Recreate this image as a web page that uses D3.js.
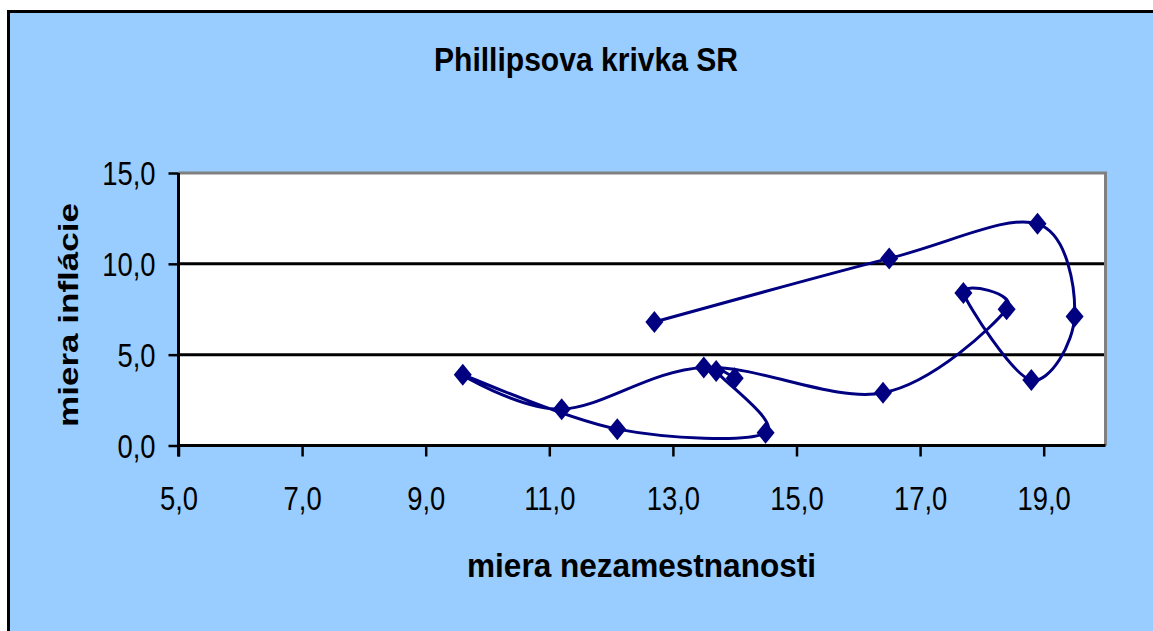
<!DOCTYPE html>
<html>
<head>
<meta charset="utf-8">
<script src="https://cdn.jsdelivr.net/npm/d3@7"></script>
<style>
  html, body { margin: 0; padding: 0; background: #ffffff; }
  svg { display: block; }
  text { font-family: "Liberation Sans", Arial, sans-serif; fill: #000; }
</style>
</head>
<body>
<script>
// Phillips curve for Slovakia: unemployment rate vs. inflation rate, yearly path
const years        = [1998, 1999, 2000, 2001, 2002, 2003, 2004, 2005, 2006, 2007, 2008, 2009, 2010, 2011, 2012];
const unemployment = [12.7, 16.5, 18.9, 19.5, 18.8, 17.7, 18.4, 16.4, 13.5, 11.2, 9.6, 12.1, 14.5, 13.7, 14.0];
const inflation    = [6.8, 10.3, 12.2, 7.1, 3.6, 8.4, 7.5, 2.9, 4.3, 2.0, 3.9, 0.9, 0.7, 4.1, 3.7];
const xTicks = [5, 7, 9, 11, 13, 15, 17, 19];
const yTicks = [0, 5, 10, 15];

const W = 1153, H = 631;
const plot = { left: 178.5, right: 1105.5, top: 173, bottom: 445.5 };
const SX = 0.83; // narrow lettering

const fmt = v => d3.format(".1f")(v).replace(".", ",");
const svg = d3.select("body").append("svg").attr("width", W).attr("height", H);

// chart background with frame
svg.append("rect").attr("x", 8.5).attr("y", 11.5).attr("width", W + 20).attr("height", H + 20)
  .attr("fill", "#99ccff").attr("stroke", "#000").attr("stroke-width", 3);

const x = d3.scaleLinear().domain([5, 20]).range([plot.left, plot.right]);
const y = d3.scaleLinear().domain([0, 15]).range([plot.bottom, plot.top]);

// plot area
svg.append("rect").attr("x", plot.left).attr("y", plot.top)
  .attr("width", plot.right - plot.left).attr("height", plot.bottom - plot.top)
  .attr("fill", "#ffffff");
svg.append("path")
  .attr("d", `M${plot.left},${plot.top}H${plot.right}V${plot.bottom}`)
  .attr("fill", "none").attr("stroke", "#808080").attr("stroke-width", 3);

// horizontal gridlines
svg.append("g").selectAll("line").data(yTicks.filter(v => v > 0 && v < 15)).join("line")
  .attr("x1", plot.left).attr("x2", plot.right - 1.5)
  .attr("y1", d => y(d)).attr("y2", d => y(d))
  .attr("stroke", "#000").attr("stroke-width", 3);

// axes
const xAxis = svg.append("g").attr("transform", `translate(0,${plot.bottom})`)
  .call(d3.axisBottom(x).tickValues(xTicks).tickSize(11).tickFormat(fmt));
const yAxis = svg.append("g").attr("transform", `translate(${plot.left},0)`)
  .call(d3.axisLeft(y).tickValues(yTicks).tickSize(10).tickFormat(fmt));

[xAxis, yAxis].forEach(g => {
  g.select(".domain").attr("stroke", "#000").attr("stroke-width", 3);
  g.selectAll(".tick line").attr("stroke", "#000").attr("stroke-width", 2.5);
  g.selectAll(".tick text").attr("font-size", 33).attr("font-family", "Liberation Sans, Arial, sans-serif").attr("fill", "#000");
});
xAxis.select(".domain").attr("d", `M${plot.left},0H${plot.right}`);
yAxis.select(".domain").attr("d", `M0,${plot.bottom + 11}V${plot.top}`);

xAxis.selectAll(".tick text")
  .attr("y", 0).attr("dy", null)
  .attr("transform", `translate(0,64.5) scale(${SX},1)`)
  .attr("text-anchor", "middle");
yAxis.selectAll(".tick text")
  .attr("x", 0).attr("dy", null).attr("y", 0)
  .attr("transform", `translate(-23,11.5) scale(${SX},1)`)
  .attr("text-anchor", "end");

// smoothed path through the yearly points
const pts = years.map((yr, i) => [unemployment[i], inflation[i]]);
const line = d3.line().x(d => x(d[0])).y(d => y(d[1])).curve(d3.curveCatmullRom.alpha(0));
svg.append("path").attr("d", line(pts))
  .attr("fill", "none").attr("stroke", "#000080").attr("stroke-width", 3)
  .attr("stroke-linejoin", "round");

// diamond markers
svg.append("g").selectAll("path").data(pts).join("path")
  .attr("transform", d => `translate(${x(d[0])},${y(d[1])})`)
  .attr("d", "M0,-11L9,0L0,11L-9,0Z")
  .attr("fill", "#000080");

// titles
svg.append("text")
  .attr("transform", `translate(586,71) scale(${SX},1)`)
  .attr("text-anchor", "middle").attr("font-size", 33).attr("font-weight", "bold")
  .attr("textLength", 304 / SX).attr("lengthAdjust", "spacingAndGlyphs")
  .text("Phillipsova krivka SR");

svg.append("text")
  .attr("transform", `translate(641.5,577) scale(${SX},1)`)
  .attr("text-anchor", "middle").attr("font-size", 33).attr("font-weight", "bold")
  .attr("textLength", 349 / SX).attr("lengthAdjust", "spacingAndGlyphs")
  .text("miera nezamestnanosti");

svg.append("text")
  .attr("transform", `translate(78,315) scale(${SX},1) rotate(-90)`)
  .attr("text-anchor", "middle").attr("font-size", 33).attr("font-weight", "bold")
  .attr("textLength", 224).attr("lengthAdjust", "spacingAndGlyphs")
  .text("miera inflácie");
</script>
</body>
</html>
